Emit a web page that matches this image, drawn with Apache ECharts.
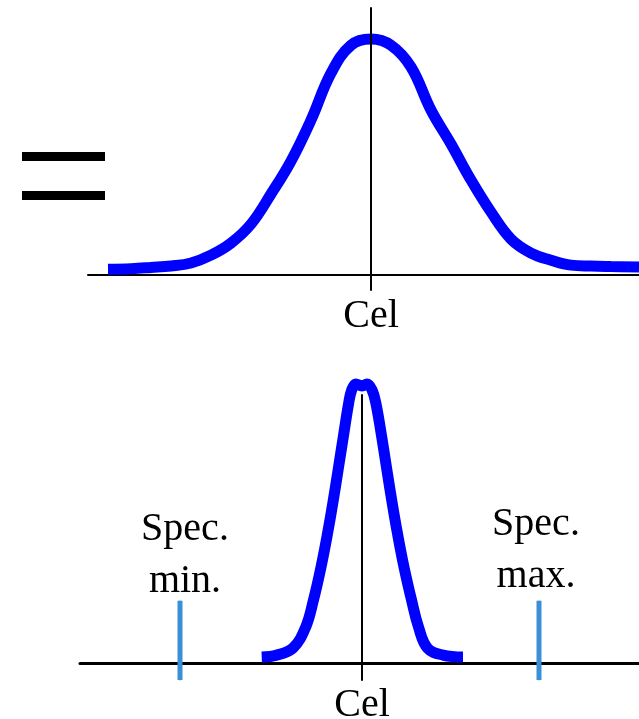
<!DOCTYPE html>
<html>
<head>
<meta charset="utf-8">
<script src="https://cdn.jsdelivr.net/npm/echarts@6/dist/echarts.min.js"></script>
<style>
  html, body { margin: 0; padding: 0; background: #fff; }
  #main { width: 639px; height: 719px; }
</style>
</head>
<body>
<div id="main"></div>
<script>
// wide process (top): x in 10px units from the centre, y as % of peak
var wideX = [-26.3, -24, -22, -20, -18, -16, -14, -12, -10, -8, -6, -4, -2, 0, 2, 4, 6, 8, 10, 12, 14, 16, 18, 20, 22, 24, 26.8];
var wideY = [2.5, 2.7, 3.2, 3.8, 5.1, 8.4, 13.5, 21.5, 34.2, 48.1, 65.4, 85.2, 97.0, 99.6, 97.0, 87.8, 69.6, 55.3, 40.1, 26.6, 15.2, 9.3, 6.3, 4.2, 3.8, 3.6, 3.4];

// narrow process (bottom)
var narrowX = [-10.03, -8.53, -6.9, -5.63, -4.85, -4.1, -3.44, -2.92, -2.39, -1.87, -1.33, -1.03, -0.6, 0, 0.5, 1.0, 1.38, 1.97, 2.49, 3.02, 3.54, 4.2, 4.95, 5.65, 6.55, 8.1, 10.1];
var narrowY = [2.1, 2.8, 5.3, 12.7, 22.3, 33.9, 45.9, 56.5, 68.2, 79.9, 91.9, 96.5, 98.6, 97.9, 98.6, 96.5, 91.9, 79.9, 68.2, 56.5, 45.9, 33.9, 22.3, 12.7, 5.3, 2.8, 2.1];

// spec limits
var specNames = ['Spec.\nmin.', 'Spec.\nmax.'];
var specX = [-18.2, 17.7];
var specLow = -6;
var specHigh = 22;

var centerLabel = 'Cel';

function pairs(xs, ys) {
    return xs.map(function (x, i) { return [x, ys[i]]; });
}

var serif = '"Liberation Serif", "DejaVu Serif", serif';
var blue = '#0000ff';
var specBlue = '#3b8fd5';

var dom = document.getElementById('main');
var myChart = echarts.init(dom);

var option = {
    animation: false,
    grid: [
        { left: 88, right: 0, top: 8, bottom: 429, outerBoundsMode: 'none' },
        { left: 80, right: 0, top: 395, bottom: 39, outerBoundsMode: 'none' }
    ],
    xAxis: [
        {
            gridIndex: 0, type: 'value', min: -28.3, max: 26.8,
            axisLine: { onZero: true, lineStyle: { color: '#000', width: 2 } },
            axisTick: { show: false },
            splitLine: { show: false },
            axisLabel: {
                customValues: [0],
                formatter: function () { return centerLabel; },
                fontSize: 40, fontFamily: serif, color: '#000', margin: 6
            }
        },
        {
            gridIndex: 1, type: 'value', min: -28.2, max: 27.7,
            axisLine: { onZero: true, lineStyle: { color: '#000', width: 3 } },
            axisTick: { show: false },
            splitLine: { show: false },
            axisLabel: {
                customValues: [0],
                formatter: function () { return centerLabel; },
                fontSize: 40, fontFamily: serif, color: '#000', margin: 5
            }
        }
    ],
    yAxis: [
        {
            gridIndex: 0, type: 'value', min: -6.3, max: 112.7, z: 5,
            axisLine: { show: true, onZero: true, lineStyle: { color: '#000', width: 2 } },
            axisTick: { show: false },
            axisLabel: { show: false },
            splitLine: { show: false }
        },
        {
            gridIndex: 1, type: 'value', min: -6, max: 94.7,
            axisLine: { show: true, onZero: true, lineStyle: { color: '#000', width: 2 } },
            axisTick: { show: false },
            axisLabel: { show: false },
            splitLine: { show: false }
        }
    ],
    graphic: [
        { type: 'rect', shape: { x: 22, y: 152, width: 83, height: 9 }, style: { fill: '#000' } },
        { type: 'rect', shape: { x: 22, y: 191, width: 83, height: 9 }, style: { fill: '#000' } }
    ],
    series: [
        {
            type: 'line', xAxisIndex: 0, yAxisIndex: 0,
            data: pairs(wideX, wideY),
            smooth: 0.4, symbol: 'none',
            lineStyle: { color: blue, width: 11, cap: 'butt' }
        },
        {
            type: 'line', xAxisIndex: 1, yAxisIndex: 1,
            data: pairs(narrowX, narrowY),
            smooth: 0.4, symbol: 'none', clip: false,
            lineStyle: { color: blue, width: 11, cap: 'butt' }
        }
    ].concat(specX.map(function (x, i) {
        return {
            type: 'line', xAxisIndex: 1, yAxisIndex: 1,
            symbol: 'circle', symbolSize: 1,
            itemStyle: { color: specBlue },
            lineStyle: { color: specBlue, width: 5 },
            data: [
                { value: [x, specLow], label: { show: false } },
                {
                    value: [x, specHigh],
                    label: {
                        show: true, position: 'top',
                        distance: i === 0 ? -7 : -2,
                        offset: [i === 0 ? 5 : -3, 0],
                        formatter: specNames[i],
                        fontSize: 40, lineHeight: 52,
                        fontFamily: serif, color: '#000'
                    }
                }
            ]
        };
    }))
};

if (option && typeof option === 'object') {
    myChart.setOption(option, true);
}
</script>
</body>
</html>
